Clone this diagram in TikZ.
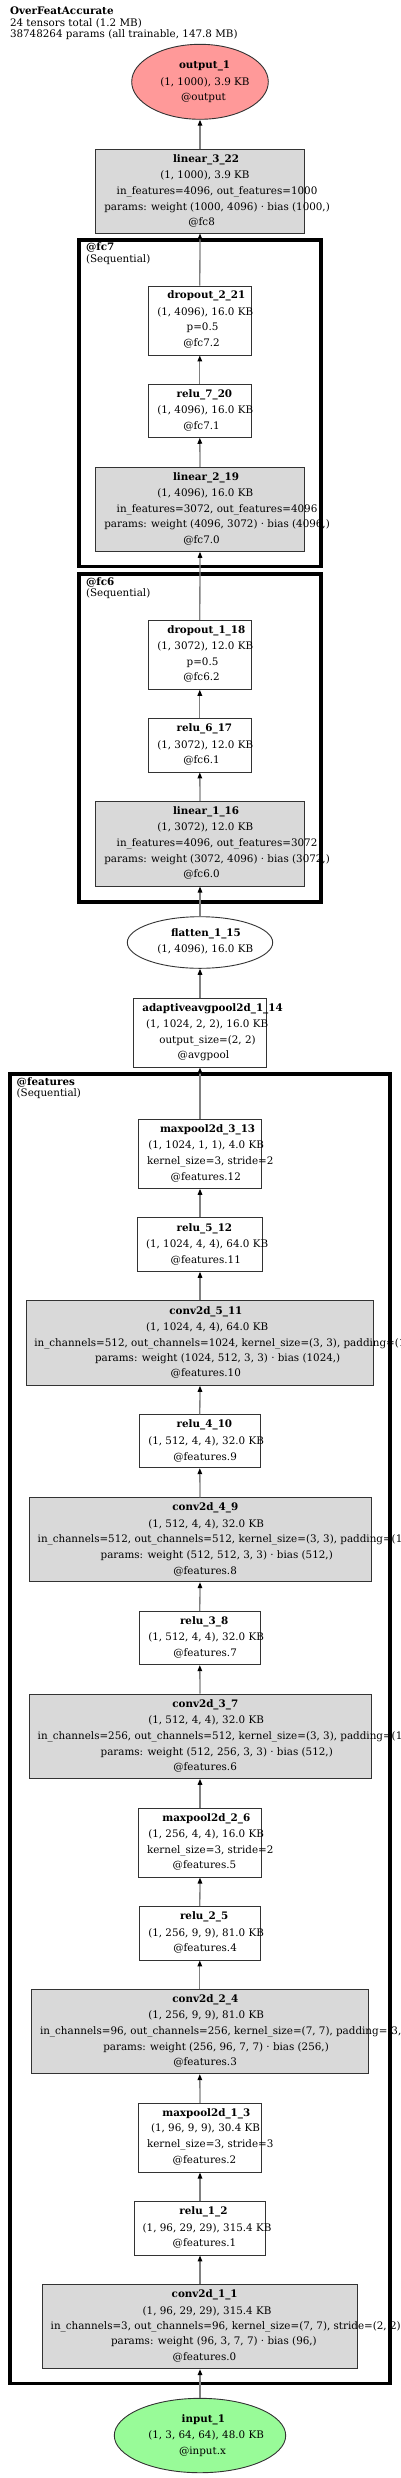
\documentclass[tikz,border=0pt]{standalone}
\usepackage{fontspec}
\setmainfont{DejaVu Serif}
\usetikzlibrary{arrows.meta,shapes.geometric}
\definecolor{outred}{HTML}{FF9999}
\definecolor{ingreen}{HTML}{98FB98}
\definecolor{opgray}{HTML}{D9D9D9}
\definecolor{edgegray}{HTML}{808080}
\definecolor{boxline}{HTML}{333333}
\newcounter{tlc}
\newcommand\putline[4]{\stepcounter{tlc}\node[#1] (tl\arabic{tlc}) at (#2,{#3+3.6}) {#4};}
\begin{document}
\begin{tikzpicture}[x=1pt,y=-1pt,
  font=\fontsize{10.35}{12}\selectfont,
  txt/.style={anchor=base west,inner sep=0pt,outer sep=0pt},
  btxt/.style={txt,font=\fontsize{10.35}{12}\selectfont\bfseries},
  opbox/.style={draw=boxline,line width=0.9pt,fill=white,inner sep=0pt},
  graybox/.style={opbox,fill=opgray},
  oval/.style={ellipse,draw=boxline,line width=0.9pt,inner sep=0pt},
  cluster/.style={draw=black,line width=3.6pt,inner sep=0pt},
  edge/.style={draw=edgegray,line width=1.3pt,-{Triangle[length=6pt,width=4.5pt,color=black]}}]
\useasboundingbox (0,0) rectangle (400,2478);
\fill[white] (0,0) rectangle (400,2478);
% clusters
\node[cluster,minimum width=242,minimum height=326.5] (cfc7) at (200,403.25) {};
\node[cluster,minimum width=242,minimum height=327.7] (cfc6) at (200,737.85) {};
\node[cluster,minimum width=380,minimum height=1309.6] (cfeat) at (200,1728.5) {};
% operation nodes
\node[oval,fill=outred,minimum width=136.6,minimum height=75] (out) at (200,81.8) {};
\node[graybox,minimum width=208.6,minimum height=84] (lin3) at (200,191) {};
\node[opbox,minimum width=103,minimum height=69] (drop2) at (199.8,320.5) {};
\node[opbox,minimum width=103,minimum height=53] (relu7) at (199.8,410.8) {};
\node[graybox,minimum width=208.6,minimum height=84] (lin2) at (200,509.3) {};
\node[opbox,minimum width=103,minimum height=69] (drop1) at (199.8,654.8) {};
\node[opbox,minimum width=103,minimum height=53.3] (relu6) at (199.8,745.3) {};
\node[graybox,minimum width=208.6,minimum height=84.7] (lin1) at (200,843.7) {};
\node[oval,fill=white,minimum width=145.4,minimum height=51.6] (flat) at (200,942.5) {};
\node[opbox,minimum width=133.4,minimum height=68.7] (avg) at (200,1032.7) {};
\node[opbox,minimum width=123.4,minimum height=69] (mp3) at (200,1153.8) {};
\node[opbox,minimum width=125.4,minimum height=53.6] (relu5) at (200,1244.5) {};
\node[graybox,minimum width=347.4,minimum height=84.6] (conv5) at (200,1343) {};
\node[opbox,minimum width=121,minimum height=53] (relu4) at (199.8,1441.2) {};
\node[graybox,minimum width=342,minimum height=84] (conv4) at (200,1539.7) {};
\node[opbox,minimum width=121,minimum height=53.4] (relu3) at (199.8,1638) {};
\node[graybox,minimum width=342,minimum height=84.3] (conv3) at (200,1736.2) {};
\node[opbox,minimum width=123.4,minimum height=68.7] (mp2) at (200,1842.7) {};
\node[opbox,minimum width=121,minimum height=53.3] (relu2) at (199.8,1933.3) {};
\node[graybox,minimum width=337,minimum height=84.4] (conv2) at (199.8,2031.5) {};
\node[opbox,minimum width=123.4,minimum height=68.7] (mp1) at (200,2137.7) {};
\node[opbox,minimum width=131.4,minimum height=54] (relu1) at (200,2228) {};
\node[graybox,minimum width=315.4,minimum height=84.4] (conv1) at (200,2326.5) {};
\node[oval,fill=ingreen,minimum width=171.4,minimum height=74.4] (inp) at (200,2435.5) {};
% edges
\draw[edge] (lin3.north) -- (out.south);
\draw[edge] (drop2.north) -- (lin3.south);
\draw[edge] (relu7.north) -- (drop2.south);
\draw[edge] (lin2.north) -- (relu7.south);
\draw[edge] (drop1.north) -- (lin2.south);
\draw[edge] (relu6.north) -- (drop1.south);
\draw[edge] (lin1.north) -- (relu6.south);
\draw[edge] (flat.north) -- (lin1.south);
\draw[edge] (avg.north) -- (flat.south);
\draw[edge] (mp3.north) -- (avg.south);
\draw[edge] (relu5.north) -- (mp3.south);
\draw[edge] (conv5.north) -- (relu5.south);
\draw[edge] (relu4.north) -- (conv5.south);
\draw[edge] (conv4.north) -- (relu4.south);
\draw[edge] (relu3.north) -- (conv4.south);
\draw[edge] (conv3.north) -- (relu3.south);
\draw[edge] (mp2.north) -- (conv3.south);
\draw[edge] (relu2.north) -- (mp2.south);
\draw[edge] (conv2.north) -- (relu2.south);
\draw[edge] (mp1.north) -- (conv2.south);
\draw[edge] (relu1.north) -- (mp1.south);
\draw[edge] (conv1.north) -- (relu1.south);
\draw[edge] (inp.north) -- (conv1.south);
% title
\putline{btxt}{10}{11}{OverFeatAccurate}
\putline{txt}{10}{22.7}{24 tensors total (1.2 MB)}
\putline{txt}{10}{33.7}{38748264 params (all trainable, 147.8 MB)}
% cluster labels
\putline{btxt}{86}{247.3}{@fc7}
\putline{txt}{86}{259}{(Sequential)}
\putline{btxt}{86}{581.7}{@fc6}
\putline{txt}{86}{593.3}{(Sequential)}
\putline{btxt}{16.7}{1081.7}{@features}
\putline{txt}{16.7}{1092.7}{(Sequential)}
% output_1
\putline{btxt}{179}{65}{output\_1}
\putline{txt}{160.3}{81.7}{(1, 1000), 3.9 KB}
\putline{txt}{181}{97.3}{@output}
% linear_3_22
\putline{btxt}{173}{159}{linear\_3\_22}
\putline{txt}{160.3}{175}{(1, 1000), 3.9 KB}
\putline{txt}{116.7}{191}{in\_features=4096, out\_features=1000}
\putline{txt}{104.3}{206.7}{params: weight (1000, 4096) · bias (1000,)}
\putline{txt}{188.3}{221.7}{@fc8}
% dropout_2_21
\putline{btxt}{167.3}{295}{dropout\_2\_21}
\putline{txt}{157.3}{311.7}{(1, 4096), 16.0 KB}
\putline{txt}{186.7}{327.3}{p=0.5}
\putline{txt}{183.3}{343}{@fc7.2}
% relu_7_20
\putline{btxt}{176.7}{394.3}{relu\_7\_20}
\putline{txt}{157.3}{410.3}{(1, 4096), 16.0 KB}
\putline{txt}{183.3}{425.7}{@fc7.1}
% linear_2_19
\putline{btxt}{173}{477}{linear\_2\_19}
\putline{txt}{157.3}{493.3}{(1, 4096), 16.0 KB}
\putline{txt}{116.7}{508.7}{in\_features=3072, out\_features=4096}
\putline{txt}{104.3}{524.3}{params: weight (4096, 3072) · bias (4096,)}
\putline{txt}{183.3}{540}{@fc7.0}
% dropout_1_18
\putline{btxt}{167.3}{630}{dropout\_1\_18}
\putline{txt}{157.3}{646}{(1, 3072), 12.0 KB}
\putline{txt}{186.7}{661.7}{p=0.5}
\putline{txt}{183.3}{677.3}{@fc6.2}
% relu_6_17
\putline{btxt}{176.7}{728.3}{relu\_6\_17}
\putline{txt}{157.3}{744.7}{(1, 3072), 12.0 KB}
\putline{txt}{183.3}{760.3}{@fc6.1}
% linear_1_16
\putline{btxt}{173}{810.7}{linear\_1\_16}
\putline{txt}{157.3}{827.3}{(1, 3072), 12.0 KB}
\putline{txt}{116.7}{843}{in\_features=4096, out\_features=3072}
\putline{txt}{104.3}{858.7}{params: weight (3072, 4096) · bias (3072,)}
\putline{txt}{183.3}{874}{@fc6.0}
% flatten_1_15
\putline{btxt}{171}{933.3}{flatten\_1\_15}
\putline{txt}{157.3}{949}{(1, 4096), 16.0 KB}
% adaptiveavgpool2d_1_14
\putline{btxt}{142.3}{1008.3}{adaptiveavgpool2d\_1\_14}
\putline{txt}{146}{1024}{(1, 1024, 2, 2), 16.0 KB}
\putline{txt}{159.3}{1039.7}{output\_size=(2, 2)}
\putline{txt}{177.7}{1055}{@avgpool}
% maxpool2d_3_13
\putline{btxt}{160}{1129.3}{maxpool2d\_3\_13}
\putline{txt}{148.3}{1145}{(1, 1024, 1, 1), 4.0 KB}
\putline{txt}{147}{1161}{kernel\_size=3, stride=2}
\putline{txt}{170.7}{1176.7}{@features.12}
% relu_5_12
\putline{btxt}{176.7}{1227.7}{relu\_5\_12}
\putline{txt}{146}{1244}{(1, 1024, 4, 4), 64.0 KB}
\putline{txt}{170.7}{1260}{@features.11}
% conv2d_5_11
\putline{btxt}{169.3}{1310.7}{conv2d\_5\_11}
\putline{txt}{146}{1326.7}{(1, 1024, 4, 4), 64.0 KB}
\putline{txt}{34.3}{1342.7}{in\_channels=512, out\_channels=1024, kernel\_size=(3, 3), padding=(1, 1)}
\putline{txt}{95}{1358.3}{params: weight (1024, 512, 3, 3) · bias (1024,)}
\putline{txt}{170.7}{1373.3}{@features.10}
% relu_4_10
\putline{btxt}{176.7}{1424.3}{relu\_4\_10}
\putline{txt}{148.3}{1440.7}{(1, 512, 4, 4), 32.0 KB}
\putline{txt}{173.3}{1456.7}{@features.9}
% conv2d_4_9
\putline{btxt}{172.3}{1507.3}{conv2d\_4\_9}
\putline{txt}{148.3}{1523.7}{(1, 512, 4, 4), 32.0 KB}
\putline{txt}{37.7}{1539.3}{in\_channels=512, out\_channels=512, kernel\_size=(3, 3), padding=(1, 1)}
\putline{txt}{100.7}{1555}{params: weight (512, 512, 3, 3) · bias (512,)}
\putline{txt}{173.3}{1570.7}{@features.8}
% relu_3_8
\putline{btxt}{180}{1621}{relu\_3\_8}
\putline{txt}{148.3}{1637.3}{(1, 512, 4, 4), 32.0 KB}
\putline{txt}{173.3}{1653.3}{@features.7}
% conv2d_3_7
\putline{btxt}{172.3}{1703.7}{conv2d\_3\_7}
\putline{txt}{148.3}{1720}{(1, 512, 4, 4), 32.0 KB}
\putline{txt}{37.7}{1736}{in\_channels=256, out\_channels=512, kernel\_size=(3, 3), padding=(1, 1)}
\putline{txt}{100.7}{1751.7}{params: weight (512, 256, 3, 3) · bias (512,)}
\putline{txt}{173.3}{1767}{@features.6}
% maxpool2d_2_6
\putline{btxt}{162.3}{1817.7}{maxpool2d\_2\_6}
\putline{txt}{148.3}{1833.7}{(1, 256, 4, 4), 16.0 KB}
\putline{txt}{147}{1849.7}{kernel\_size=3, stride=2}
\putline{txt}{172.7}{1865}{@features.5}
% relu_2_5
\putline{btxt}{180}{1916.3}{relu\_2\_5}
\putline{txt}{148.3}{1932.7}{(1, 256, 9, 9), 81.0 KB}
\putline{txt}{173.3}{1948.3}{@features.4}
% conv2d_2_4
\putline{btxt}{172.3}{1999}{conv2d\_2\_4}
\putline{txt}{148.3}{2015.3}{(1, 256, 9, 9), 81.0 KB}
\putline{txt}{40}{2031}{in\_channels=96, out\_channels=256, kernel\_size=(7, 7), padding=(3, 3)}
\putline{txt}{103.3}{2046.7}{params: weight (256, 96, 7, 7) · bias (256,)}
\putline{txt}{173.3}{2062.3}{@features.3}
% maxpool2d_1_3
\putline{btxt}{162.3}{2112.7}{maxpool2d\_1\_3}
\putline{txt}{151}{2128.3}{(1, 96, 9, 9), 30.4 KB}
\putline{txt}{147}{2144.3}{kernel\_size=3, stride=3}
\putline{txt}{172.7}{2160}{@features.2}
% relu_1_2
\putline{btxt}{179.3}{2211.3}{relu\_1\_2}
\putline{txt}{142.7}{2227.7}{(1, 96, 29, 29), 315.4 KB}
\putline{txt}{172.7}{2243.3}{@features.1}
% conv2d_1_1
\putline{btxt}{171.7}{2294}{conv2d\_1\_1}
\putline{txt}{142.7}{2310.7}{(1, 96, 29, 29), 315.4 KB}
\putline{txt}{50.7}{2326}{in\_channels=3, out\_channels=96, kernel\_size=(7, 7), stride=(2, 2)}
\putline{txt}{111}{2341.3}{params: weight (96, 3, 7, 7) · bias (96,)}
\putline{txt}{172.7}{2357}{@features.0}
% input_1
\putline{btxt}{181.7}{2419}{input\_1}
\putline{txt}{148.3}{2435.3}{(1, 3, 64, 64), 48.0 KB}
\putline{txt}{179}{2451}{@input.x}
\end{tikzpicture}
\end{document}
